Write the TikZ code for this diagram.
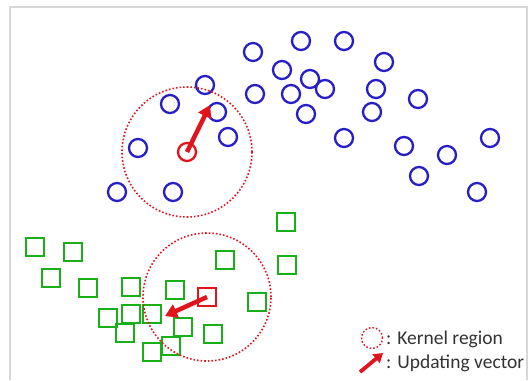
\documentclass[tikz,border=0pt]{standalone}
\usepackage{fontspec}
\setmainfont{Carlito}
\usetikzlibrary{arrows.meta}
\definecolor{cblue}{RGB}{40,30,200}
\definecolor{sgreen}{RGB}{25,175,25}
\definecolor{kred}{RGB}{225,20,30}
\definecolor{frame}{RGB}{215,215,215}
\begin{document}
\begin{tikzpicture}[x=1pt,y=-1pt,
  bc/.style={circle,draw=cblue,line width=2.3pt,minimum size=18pt,inner sep=0pt},
  gs/.style={rectangle,draw=sgreen,line width=2.3pt,minimum size=18pt,inner sep=0pt},
  rc/.style={circle,draw=kred,line width=2.3pt,minimum size=18pt,inner sep=0pt},
  rs/.style={rectangle,draw=kred,line width=2.3pt,minimum size=18pt,inner sep=0pt},
  kernel/.style={circle,draw=kred,line width=1.6pt,dotted,inner sep=0pt},
  upd/.style={draw=kred,line width=4.5pt,-{Triangle[length=12pt,width=14pt]}},
  legtext/.style={anchor=west,inner sep=0pt,font=\fontsize{19.5}{21}\selectfont,text=black!80}]
\useasboundingbox (0,0) rectangle (529,380);
\fill[white] (0,0) rectangle (529,380);
\draw[frame,line width=1.5pt] (10,380) -- (10,7) -- (527,7) -- (527,380);
% blue circles
\foreach \i/\x/\y in {1/253/52,2/301/41,3/344/41,4/384/62,5/282/70,6/310/79,7/325/89,8/291/94,
  9/255/94,10/306/114,11/376/89,12/372/112,13/418/99,14/344/138,15/404/146,16/447/155,
  17/490/138,18/419/176,19/477/192,20/205/85,21/170/104,22/217/112,23/228/137,24/138/148,
  25/117/192,26/173/192}
  \node[bc] (b\i) at (\x,\y) {};
% green squares
\foreach \i/\x/\y in {1/35/247,2/73/252,3/51/278,4/88/288,5/131/287,6/175/290,7/225/260,
  8/257/302,9/108/318,10/131/314,11/152/314,12/183/327,13/125/333,14/213/334,15/152/352,
  16/171/346,17/286/222,18/287/265}
  \node[gs] (g\i) at (\x,\y) {};
% kernel regions
\node[kernel,minimum size=130pt] (k1) at (187,152) {};
\node[kernel,minimum size=128pt] (k2) at (207,297) {};
% centers
\node[rc] (rc) at (187,152) {};
\node[rs] (rs) at (207,297) {};
\coordinate (t1) at (210,105);
\coordinate (t2) at (165,316);
\draw[upd] (rc.center) -- (t1);
\draw[upd] (rs.center) -- (t2);
% legend
\node[kernel,minimum size=21pt,line width=1.4pt] (lk) at (372,338) {};
\node[legtext] (l1) at (386,339) {: Kernel region};
\coordinate (la0) at (360,372);
\coordinate (la1) at (383,353);
\draw[draw=kred,line width=3.8pt,-{Triangle[length=9pt,width=11pt]}] (la0) -- (la1);
\node[legtext] (l2) at (386,363) {: Updating vector};
\end{tikzpicture}
\end{document}
